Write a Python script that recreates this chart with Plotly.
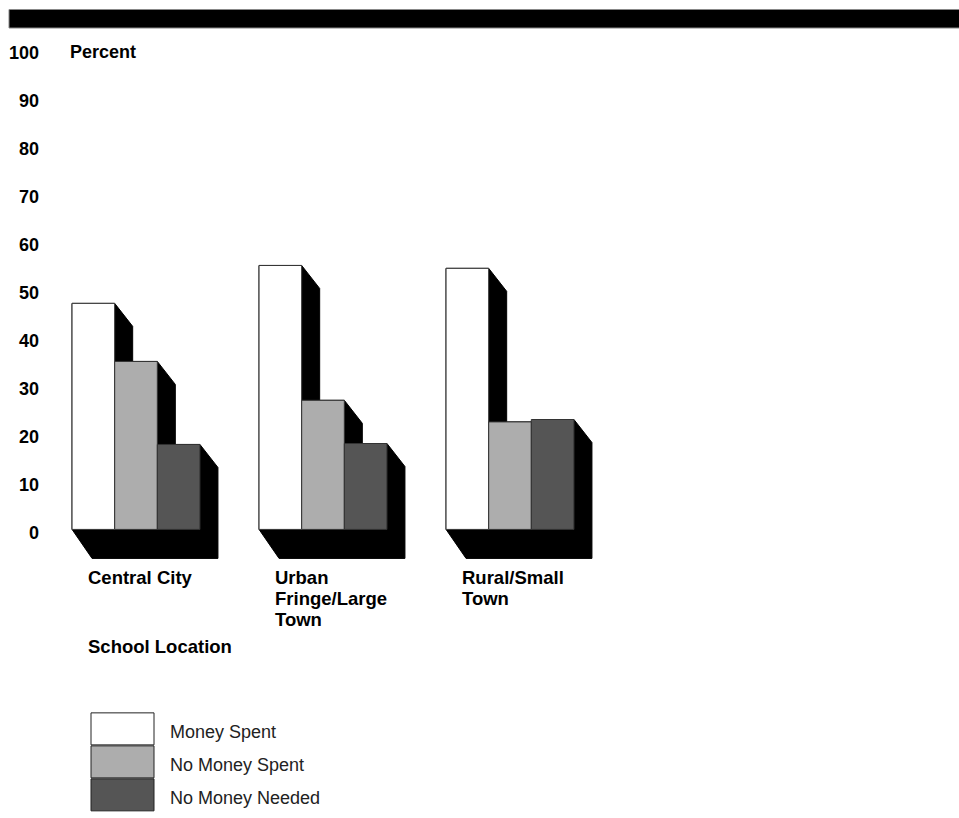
import plotly.graph_objects as go

# ---------------- data ----------------
categories = ["Central City", "Urban\nFringe/Large\nTown", "Rural/Small\nTown"]
series_names = ["Money Spent", "No Money Spent", "No Money Needed"]
money_spent = [47.1, 55.0, 54.4]
no_money_spent = [35.0, 26.9, 22.4]
no_money_needed = [17.7, 17.9, 22.9]
y_ticks = [0, 10, 20, 30, 40, 50, 60, 70, 80, 90, 100]
y_title = "Percent"
x_title = "School Location"

series_values = [money_spent, no_money_spent, no_money_needed]
colors = ["#ffffff", "#adadad", "#555555"]

# ---------------- geometry / layout constants ----------------
W, H = 959, 818
L, R = 45, 314            # margins
T = 48
plot_w = W - L - R        # 600 px
px_per_x = 187.0          # pixels per category unit
x0 = -(136 - L) / px_per_x
x1 = x0 + plot_w / px_per_x
px_per_y = 4.8
y_top = 100 + 1.5 / px_per_y
y_bot = -7.0
plot_h = (y_top - y_bot) * px_per_y
B = H - T - plot_h

bw = 0.228                # bar width (category units)
n = len(series_names)

FONT = "Liberation Sans, Arial, Helvetica, sans-serif"

fig = go.Figure()

# shadows (3D depth): one non-overlapping outline per group, below the bars
dx = 18 / px_per_x
dy_top = 23 / px_per_y
dx_bot_l = 20 / px_per_x
dy_bot = 29 / px_per_y
shapes = []
for i in range(len(categories)):
    lefts = [i - n * bw / 2 + j * bw for j in range(n)]
    rights = [lf + bw for lf in lefts]
    tops = [vals[i] for vals in series_values]
    pts = [(lefts[0], 0), (lefts[0] + dx_bot_l, -dy_bot), (rights[-1] + dx, -dy_bot),
           (rights[-1] + dx, tops[-1] - dy_top), (rights[-1], tops[-1])]
    for j in range(n - 1, 0, -1):
        pts += [(lefts[j] + dx, tops[j]), (lefts[j] + dx, tops[j - 1] - dy_top),
                (rights[j - 1], tops[j - 1])]
    pts.append((lefts[0], tops[0]))
    path = "M " + " L ".join(f"{px},{py}" for px, py in pts) + " Z"
    shapes.append(dict(type="path", path=path, xref="x", yref="y",
                       fillcolor="black", line=dict(color="black", width=1),
                       layer="below"))

# bars
for j, (name, vals, col) in enumerate(zip(series_names, series_values, colors)):
    fig.add_trace(go.Bar(
        x=list(range(len(categories))), y=vals, name=name,
        marker=dict(color=col, line=dict(color="#333333", width=1)),
        width=bw, offset=-n * bw / 2 + j * bw, showlegend=False, hoverinfo="skip"))

# black band at the top
def pxx(px):
    return (px - L) / plot_w

def pxy(py):
    return (T + plot_h - py) / plot_h

shapes.append(dict(type="rect", xref="paper", yref="paper",
                   x0=pxx(9), x1=pxx(W + 5), y0=pxy(28), y1=pxy(9.5),
                   fillcolor="black", line=dict(color="#888888", width=1)))

BOLD = dict(family=FONT, size=18.5, color="black", weight="bold")
annotations = []
# y title
annotations.append(dict(text=y_title, xref="paper", yref="paper", x=pxx(68), y=pxy(52),
                        xanchor="left", yanchor="middle", showarrow=False,
                        font=dict(family=FONT, size=18, color="black", weight="bold")))
# category labels (one annotation per line, tight line spacing)
for i, cat in enumerate(categories):
    for k, line in enumerate(cat.split("\n")):
        annotations.append(dict(text=line, xref="x", yref="paper", x=i - 50 / px_per_x,
                                y=pxy(578 + 21 * k), xanchor="left", yanchor="middle",
                                showarrow=False, font=BOLD))
# x title
annotations.append(dict(text=x_title, xref="paper", yref="paper", x=pxx(86), y=pxy(647),
                        xanchor="left", yanchor="middle", showarrow=False, font=BOLD))

# custom legend
for k, (name, col) in enumerate(zip(series_names, colors)):
    top = 713 + k * 33
    shapes.append(dict(type="rect", xref="paper", yref="paper",
                       x0=pxx(91), x1=pxx(154), y0=pxy(top + 32), y1=pxy(top),
                       fillcolor=col, line=dict(color="#222222", width=1)))
    annotations.append(dict(text=name, xref="paper", yref="paper", x=pxx(168),
                            y=pxy(top + 19), xanchor="left", yanchor="middle",
                            showarrow=False,
                            font=dict(family=FONT, size=18, color="#222222")))

fig.update_layout(
    width=W, height=H,
    margin=dict(l=L, r=R, t=T, b=B, pad=0, autoexpand=False),
    paper_bgcolor="white", plot_bgcolor="white",
    barmode="overlay",
    shapes=shapes, annotations=annotations,
    xaxis=dict(range=[x0, x1], showticklabels=False, showgrid=False, zeroline=False,
               showline=False, ticks="", automargin=False),
    yaxis=dict(range=[y_bot, y_top], tickvals=y_ticks, ticktext=[str(v) for v in y_ticks],
               showgrid=False, zeroline=False, showline=False, ticks="", automargin=False,
               ticklabelstandoff=5, ticklabelshift=3,
               tickfont=dict(family=FONT, size=18, color="black", weight="bold")),
    showlegend=False,
)

fig.write_html("out.html")
